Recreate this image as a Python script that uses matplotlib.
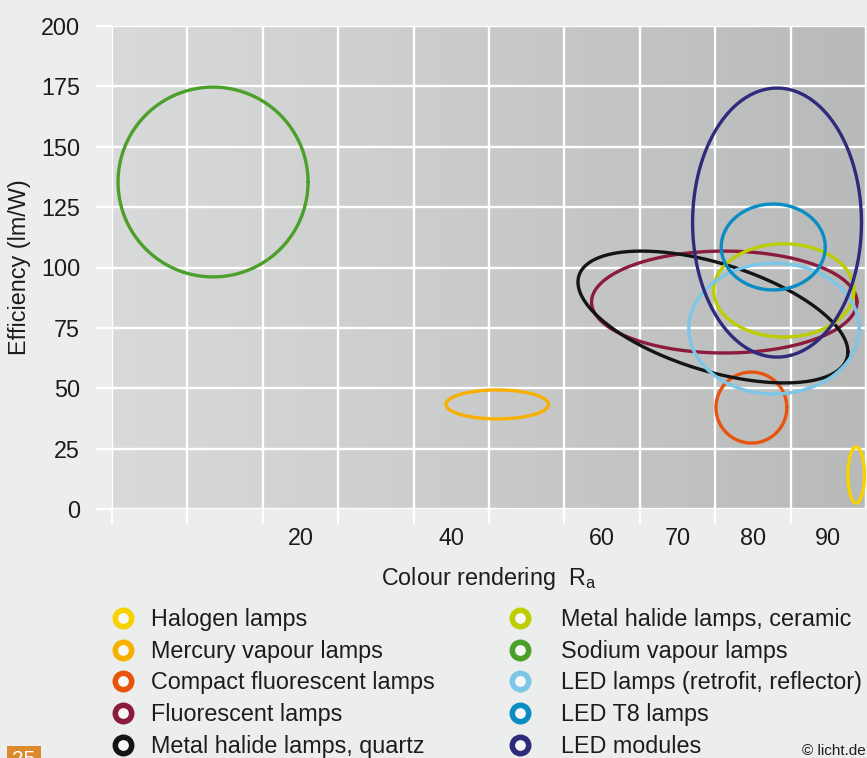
import numpy as np
import matplotlib
matplotlib.use("Agg")
import matplotlib.pyplot as plt
from matplotlib.lines import Line2D
from matplotlib.colors import LinearSegmentedColormap
from matplotlib.patches import Rectangle

# ---------------- data ----------------
lamp_types = [
    "Halogen lamps",
    "Mercury vapour lamps",
    "Compact fluorescent lamps",
    "Fluorescent lamps",
    "Metal halide lamps, quartz",
    "Metal halide lamps, ceramic",
    "Sodium vapour lamps",
    "LED lamps (retrofit, reflector)",
    "LED T8 lamps",
    "LED modules",
]
# centre and half-range of each region (colour rendering Ra / efficiency lm/W)
ra_centre = [93.7, 46.1, 79.8, 76.2, 74.7, 84.1, 8.4, 82.8, 82.7, 83.2]
ra_halfrange = [1.1, 6.8, 4.7, 17.6, 17.9, 9.3, 12.6, 11.3, 6.9, 11.2]
eff_centre = [14.1, 43.3, 42.0, 85.7, 79.5, 90.5, 135.4, 74.7, 108.5, 118.6]
eff_halfrange = [11.6, 6.0, 14.7, 21.1, 27.3, 19.3, 39.3, 27.1, 17.8, 55.7]
tilt = [0, 0, 0, 0, -0.53, 0, 0, 0, 0, 0]  # correlation-like skew of region

x_tick_values = [20, 40, 60, 70, 80, 90]
y_tick_values = [0, 25, 50, 75, 100, 125, 150, 175, 200]

# ---------------- style ----------------
colors = ["#f8d200", "#f8b000", "#e8540e", "#8c1c3c", "#141414",
          "#bccd00", "#4b9f2b", "#7cc6e8", "#0a8cc4", "#2e2a7c"]
BG = "#eceeed"
TXT = "#1c1c1c"
FS = 16.8

plt.rcParams["font.family"] = ["Liberation Sans", "DejaVu Sans"]
plt.rcParams["mathtext.fontset"] = "custom"
plt.rcParams["mathtext.rm"] = "Liberation Sans"
plt.rcParams["mathtext.it"] = "Liberation Sans"

W, H = 867, 758
fig = plt.figure(figsize=(W / 100, H / 100), dpi=100, facecolor=BG)
ax = fig.add_axes([112 / W, (H - 509) / H, (866 - 112) / W, (509 - 26) / H])
ax.set_facecolor(BG)

xmin, xmax, ymin, ymax = -5, 95, 0, 200
ax.set_xlim(xmin, xmax)
ax.set_ylim(ymin, ymax)

# gradient background
cmap = LinearSegmentedColormap.from_list("g", ["#d9dada", "#c9caca", "#b8b9b9"])
grad = np.linspace(0, 1, 256).reshape(1, -1)
ax.imshow(grad, cmap=cmap, extent=[xmin, xmax, ymin, ymax], aspect="auto",
          zorder=0, interpolation="bicubic")

for s in ax.spines.values():
    s.set_visible(False)

grid_x = np.arange(-5, 96, 10)
ax.set_xticks(grid_x[:-1])
ax.set_xticklabels([])
ax.set_xticks(x_tick_values, minor=True)
ax.set_xticklabels([str(v) for v in x_tick_values], minor=True)
ax.set_yticks(y_tick_values)
ax.set_yticklabels([str(v) for v in y_tick_values])

ax.tick_params(axis="x", which="major", length=10.8, width=1.6, color="white",
               direction="out")
ax.tick_params(axis="x", which="minor", length=0, pad=13, labelsize=FS,
               labelcolor=TXT)
ax.tick_params(axis="y", which="major", length=11.5, width=1.6, color="white",
               direction="out", pad=11.5, labelsize=FS, labelcolor=TXT)

for gx in grid_x:
    ax.axvline(gx, color="white", lw=1.7, zorder=1)
for gy in y_tick_values:
    ax.axhline(gy, color="white", lw=1.7, zorder=1)

# regions
t = np.linspace(0, 2 * np.pi, 400)
for i in range(len(lamp_types)):
    r = tilt[i]
    xs = ra_centre[i] + ra_halfrange[i] * np.cos(t)
    ys = eff_centre[i] + eff_halfrange[i] * (r * np.cos(t) + np.sqrt(1 - r * r) * np.sin(t))
    ax.plot(xs, ys, color=colors[i], lw=2.4, zorder=3, solid_capstyle="round")

ax.set_ylabel("Efficiency (lm/W)", fontsize=FS, color=TXT, va="center")
ax.yaxis.set_label_coords((20 - 112) / 754, 0.5)
ax.set_xlabel("Colour rendering  R$_\\mathregular{a}$", fontsize=FS, color=TXT,
              va="center")
ax.xaxis.set_label_coords((489 - 112) / 754, (509 - 578) / 483)

# legend (two columns)
handles = [Line2D([], [], ls="none", marker="o", ms=11.8, mew=4.0,
                  mec=c, mfc="#f7f7f7") for c in colors]
common = dict(loc="upper left", frameon=False, fontsize=FS, handlelength=1.0,
              labelspacing=0.375, borderpad=0, borderaxespad=0, labelcolor=TXT)
leg1 = fig.legend(handles[:5], lamp_types[:5],
                  bbox_to_anchor=(111.5 / W, 1 - 608 / H),
                  handletextpad=0.68, **common)
leg2 = fig.legend(handles[5:], lamp_types[5:],
                  bbox_to_anchor=(508 / W, 1 - 608 / H),
                  handletextpad=1.28, **common)

# page number box and copyright
fig.patches.append(Rectangle((7 / W, 0), 34 / W, 12 / H, transform=fig.transFigure,
                             facecolor="#dc8a2c", edgecolor="none"))
fig.text(24 / W, 1 - 750 / H, "25", color="white", fontsize=15, ha="center",
         va="top")
fig.text(802 / W, 1 - 755 / H, "\u00a9 licht.de", color=TXT, fontsize=11,
         ha="left", va="baseline")

fig.savefig("out.png", dpi=100, facecolor=BG)
